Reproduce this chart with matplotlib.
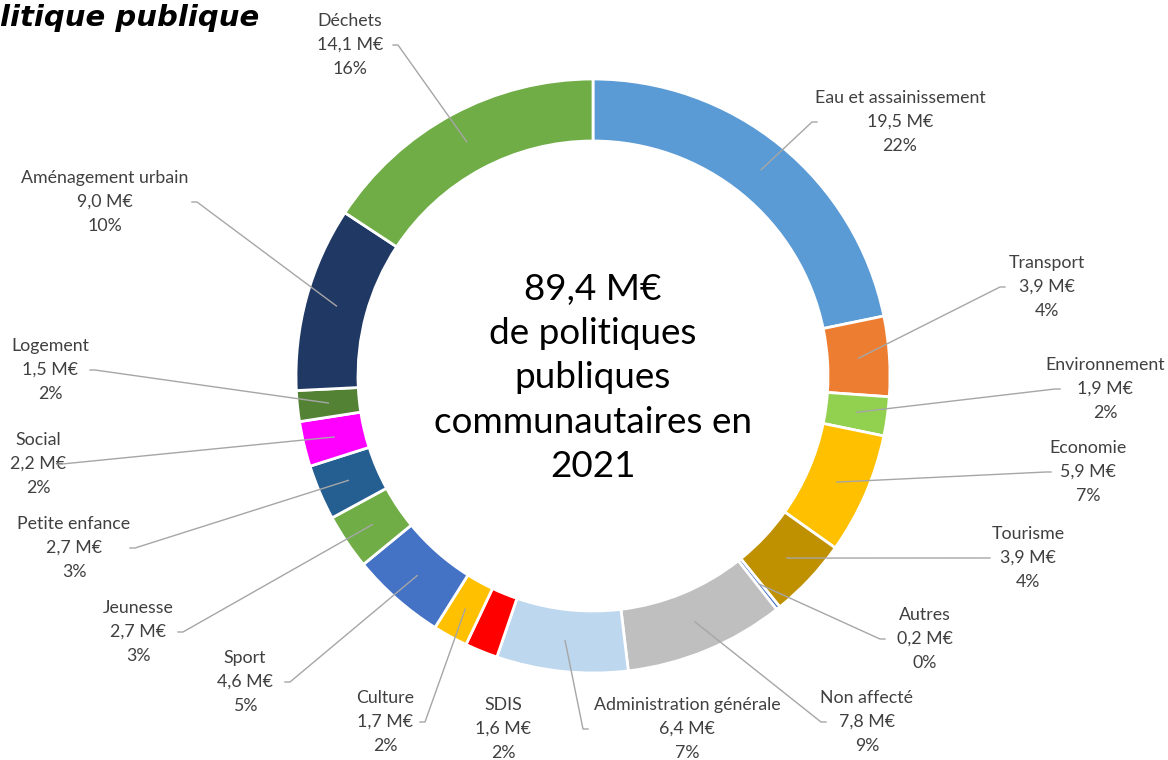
import matplotlib
matplotlib.use("Agg")
import matplotlib.pyplot as plt
import numpy as np

categories = ["Eau et assainissement", "Transport", "Environnement", "Economie", "Tourisme",
              "Autres", "Non affecté", "Administration générale", "SDIS", "Culture", "Sport",
              "Jeunesse", "Petite enfance", "Social", "Logement", "Aménagement urbain", "Déchets"]
values = [19.5, 3.9, 1.9, 5.9, 3.9, 0.2, 7.8, 6.4, 1.6, 1.7, 4.6, 2.7, 2.7, 2.2, 1.5, 9.0, 14.1]
amount_labels = ["19,5 M€", "3,9 M€", "1,9 M€", "5,9 M€", "3,9 M€", "0,2 M€", "7,8 M€", "6,4 M€",
                 "1,6 M€", "1,7 M€", "4,6 M€", "2,7 M€", "2,7 M€", "2,2 M€", "1,5 M€", "9,0 M€", "14,1 M€"]
pct_labels = ["22%", "4%", "2%", "7%", "4%", "0%", "9%", "7%", "2%", "2%", "5%", "3%", "3%", "2%",
              "2%", "10%", "16%"]
colors = ["#5B9BD5", "#ED7D31", "#92D050", "#FFC000", "#BF9000", "#4472C4", "#BFBFBF", "#BDD7EE",
          "#FF0000", "#FFC000", "#4472C4", "#70AD47", "#255E91", "#FF00FF", "#548235", "#203864",
          "#70AD47"]
center_text = "89,4 M€\nde politiques\npubliques\ncommunautaires en\n2021"
title_text = "litique publique"

# label layout (pixel coords: text centre x, middle line y, leader side, elbow x)
label_pos = [(900, 122, 'L', 812), (1047, 287, 'L', 1000), (1105, 389, 'L', 1055),
             (1088, 472, 'L', 1046), (1028, 558, 'L', 985), (925, 639, 'L', 880),
             (867, 722, 'L', 821), (687, 729, 'L', 583), (503, 729, None, None),
             (385, 722, 'R', 425), (245, 682, 'R', 290), (138, 632, 'R', 183),
             (74, 548, 'R', 135), (38, 464, 'R', 62), (50, 370, 'R', 95),
             (105, 202, 'R', 197), (350, 45, 'R', 398)]

W, H = 1168, 760
fig = plt.figure(figsize=(W / 100, H / 100), dpi=100)
ax = fig.add_axes([0, 0, 1, 1])

cx, cy, R, ring = 593, H - 376, 297, 62
wedges, _ = ax.pie(values, colors=colors, startangle=90, counterclock=False,
                   center=(cx, cy), radius=R, frame=True,
                   wedgeprops=dict(width=ring, edgecolor='white', linewidth=2))
ax.set_xlim(0, W)
ax.set_ylim(0, H)
ax.set_aspect('equal')
ax.axis('off')

font = "Lato"
tcol = "#404040"
rmid = R - ring / 2
for w, name, amt, pct, (lx, ly, side, ex) in zip(wedges, categories, amount_labels, pct_labels, label_pos):
    th = np.deg2rad((w.theta1 + w.theta2) / 2)
    axp, ayp = cx + rmid * np.cos(th), cy + rmid * np.sin(th)
    yy = H - ly
    ax.text(lx, yy, f"{name}\n{amt}\n{pct}", ha='center', va='center', fontsize=12.8,
            family=font, color=tcol, linespacing=1.58)
    if side is not None:
        ex2 = ex + (5 if side == 'L' else -5)
        ax.plot([ex2, ex, axp], [yy, yy, ayp], color='#A6A6A6', lw=1, zorder=3)

ax.text(cx, H - 378, center_text, ha='center', va='center', fontsize=26.6, family=font,
        color='black', linespacing=1.42)

ax.text(0, H - 18, title_text, ha='left', va='center', fontsize=21,
        fontweight='bold', fontstyle='italic', family="DejaVu Sans", color='black')

fig.savefig("out.png", dpi=100)
